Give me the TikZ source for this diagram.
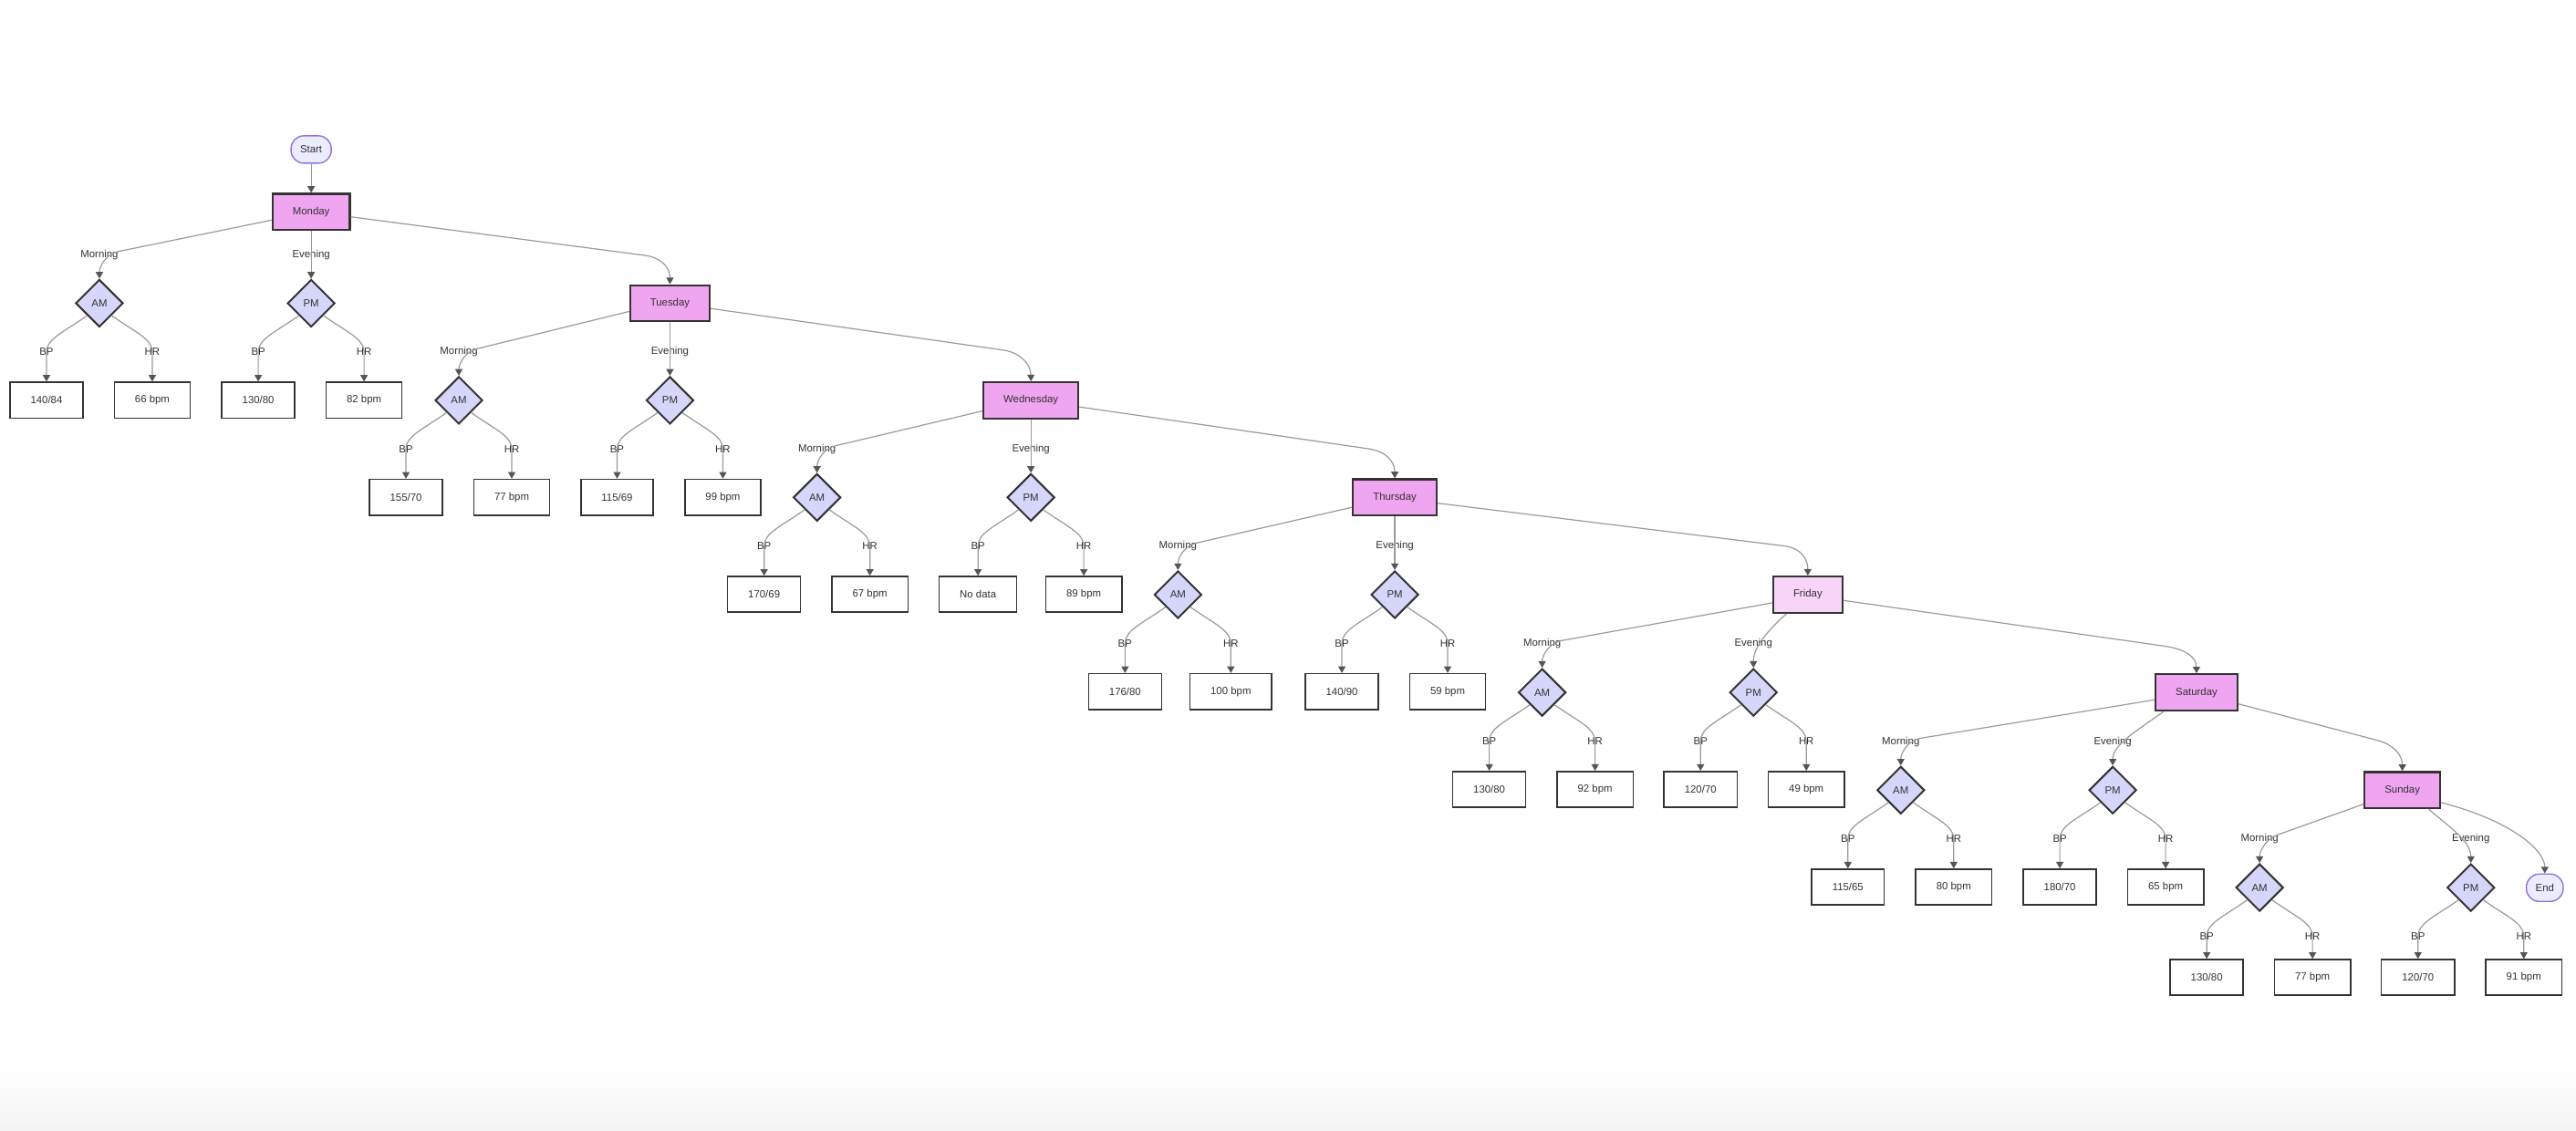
\documentclass[tikz,border=0pt]{standalone}
\usepackage{fontspec}
\setmainfont{Liberation Sans}
\usetikzlibrary{shapes.geometric,arrows.meta}
\definecolor{txt}{HTML}{333333}
\definecolor{dayfill}{RGB}{240,165,240}
\definecolor{frifill}{RGB}{248,212,248}
\definecolor{diafill}{RGB}{214,214,250}
\definecolor{termfill}{HTML}{ECECFF}
\definecolor{termline}{HTML}{9370DB}
\definecolor{edgecol}{HTML}{9A9A9A}
\definecolor{tipcol}{HTML}{555555}
\definecolor{boxline}{HTML}{333333}
\definecolor{bgbot}{RGB}{244,244,244}

\newcommand\dayrow[9]{%
  \node[dia] (am#1) at (#2,-#4) {AM};
  \node[dia] (pm#1) at (#3,-#4) {PM};
  \node[lbl] (mor#1) at ([shift={(0,29.5)}]am#1.center) {Morning};
  \node[lbl] (eve#1) at ([shift={(0,29.5)}]pm#1.center) {Evening};
  \node[leafbox] (abp#1) at ([shift={(-32.2,-#9)}]am#1.center) {#5};
  \node[leafbox] (ahr#1) at ([shift={(32.2,-#9)}]am#1.center) {#6};
  \node[leafbox] (pbp#1) at ([shift={(-32.2,-#9)}]pm#1.center) {#7};
  \node[leafbox] (phr#1) at ([shift={(32.2,-#9)}]pm#1.center) {#8};
  \node[lbl] (labp#1) at ([shift={(-32.2,-29.6)}]am#1.center) {BP};
  \node[lbl] (lahr#1) at ([shift={(32.2,-29.6)}]am#1.center) {HR};
  \node[lbl] (lpbp#1) at ([shift={(-32.2,-29.6)}]pm#1.center) {BP};
  \node[lbl] (lphr#1) at ([shift={(32.2,-29.6)}]pm#1.center) {HR};
  \draw[edge] (am#1.south west) .. controls +(-14,-10) and +(0,8) .. (labp#1.center) -- (abp#1.north);
  \draw[edge] (am#1.south east) .. controls +(14,-10) and +(0,8) .. (lahr#1.center) -- (ahr#1.north);
  \draw[edge] (pm#1.south west) .. controls +(-14,-10) and +(0,8) .. (lpbp#1.center) -- (pbp#1.north);
  \draw[edge] (pm#1.south east) .. controls +(14,-10) and +(0,8) .. (lphr#1.center) -- (phr#1.north);
}

\begin{document}
\begin{tikzpicture}[x=0.9pt,y=0.9pt,
  font=\fontsize{5.7}{6.8}\selectfont, text=txt,
  daybox/.style={draw=boxline, line width=1.1pt, fill=dayfill, minimum height=19.8pt, inner xsep=11pt, inner ysep=0pt},
  leafbox/.style={draw=boxline, line width=0.75pt, fill=white, minimum height=19.6pt, inner xsep=11.3pt, inner ysep=0pt},
  dia/.style={diamond, draw=boxline, line width=1pt, fill=diafill, minimum width=26pt, minimum height=26pt, inner sep=0pt},
  term/.style={draw=termline, line width=0.7pt, fill=termfill, rounded corners=7pt, minimum height=15pt, inner xsep=5pt, inner ysep=0pt},
  lbl/.style={inner sep=0.5pt},
  edge/.style={draw=edgecol, line width=0.6pt, -{Triangle[length=3.6pt,width=4pt,color=tipcol]}},
]
\fill[white] (0,0) rectangle (1568,-688);
\shade[top color=white, bottom color=bgbot] (0,-650) rectangle (1568,-688);
\useasboundingbox (0,0) rectangle (1568,-688);

% terminals and days
\node[term] (start) at (189.4,-91) {Start};
\node[daybox] (mon) at (189.4,-129) {Monday};
\node[daybox] (tue) at (407.8,-184.6) {Tuesday};
\node[daybox] (wed) at (627.5,-243.7) {Wednesday};
\node[daybox] (thu) at (849,-302.8) {Thursday};
\node[daybox, fill=frifill] (fri) at (1100.4,-362) {Friday};
\node[daybox] (sat) at (1337,-421.5) {Saturday};
\node[daybox] (sun) at (1462.3,-481) {Sunday};
\node[term] (endn) at (1549,-540.4) {End};

% rows of readings
\dayrow{1}{60.5}{189.4}{184.6}{140/84}{66 bpm}{130/80}{82 bpm}{59}
\dayrow{2}{279.3}{407.8}{243.7}{155/70}{77 bpm}{115/69}{99 bpm}{59}
\dayrow{3}{497.3}{627.5}{302.8}{170/69}{67 bpm}{No data}{89 bpm}{59}
\dayrow{4}{717}{849}{362}{176/80}{100 bpm}{140/90}{59 bpm}{59}
\dayrow{5}{938.7}{1067.3}{421.5}{130/80}{92 bpm}{120/70}{49 bpm}{59}
\dayrow{6}{1157}{1286}{481}{115/65}{80 bpm}{180/70}{65 bpm}{59}
\dayrow{7}{1375.4}{1504}{540.3}{130/80}{77 bpm}{120/70}{91 bpm}{54.7}

% start
\draw[edge] (start.south) -- (mon.north);

% morning edges
\draw[edge] ([shift={(0,-5)}]mon.west) -- ([shift={(11.5,16.5)}]am1.north) .. controls +(-7,-1.5) and +(0,8) .. (am1.north);
\draw[edge] ([shift={(0,-5)}]tue.west) -- ([shift={(11.5,16.5)}]am2.north) .. controls +(-7,-1.5) and +(0,8) .. (am2.north);
\draw[edge] ([shift={(0,-6.5)}]wed.west) -- ([shift={(11.5,16.5)}]am3.north) .. controls +(-7,-1.5) and +(0,8) .. (am3.north);
\draw[edge] ([shift={(0,-6)}]thu.west) -- ([shift={(11.5,16.5)}]am4.north) .. controls +(-7,-1.5) and +(0,8) .. (am4.north);
\draw[edge] ([shift={(0,-5)}]fri.west) -- ([shift={(11.5,16.5)}]am5.north) .. controls +(-7,-1.5) and +(0,8) .. (am5.north);
\draw[edge] ([shift={(0,-4.5)}]sat.west) -- ([shift={(11.5,16.5)}]am6.north) .. controls +(-7,-1.5) and +(0,8) .. (am6.north);
\draw[edge] ([shift={(0,-8.5)}]sun.west) -- ([shift={(10.6,17)}]am7.north) .. controls +(-6,-2.2) and +(0,8) .. (am7.north);

% evening edges
\draw[edge] (mon.south) -- (pm1.north);
\draw[edge] (tue.south) -- (pm2.north);
\draw[edge] (wed.south) -- (pm3.north);
\draw[edge] (thu.south) -- (pm4.north);
\draw[edge] ([shift={(-13,0)}]fri.south) .. controls +(-11,-10) and +(0,13) .. (pm5.north);
\draw[edge] ([shift={(-20,0)}]sat.south) .. controls +(-15,-11) and +(0,13) .. (pm6.north);
\draw[edge] ([shift={(16,0)}]sun.south) .. controls +(13,-11) and +(0,13) .. (pm7.north);

% next-day edges
\draw[edge] ([shift={(0,-3)}]mon.east) -- ([shift={(-15,17.5)}]tue.north) .. controls +(10,-1.5) and +(0,10) .. (tue.north);
\draw[edge] ([shift={(0,-3.2)}]tue.east) -- ([shift={(-17,19)}]wed.north) .. controls +(11,-1.6) and +(0,10) .. (wed.north);
\draw[edge] ([shift={(0,-4)}]wed.east) -- ([shift={(-16,18)}]thu.north) .. controls +(11,-1.6) and +(0,10) .. (thu.north);
\draw[edge] ([shift={(0,-3.5)}]thu.east) -- ([shift={(-14,18)}]fri.north) .. controls +(10,-1.4) and +(0,10) .. (fri.north);
\draw[edge] ([shift={(0,-3.5)}]fri.east) -- ([shift={(-19,16.5)}]sat.north) .. controls +(12,-1.8) and +(0,10) .. (sat.north);
\draw[edge] ([shift={(0,-7)}]sat.east) -- ([shift={(-14.7,18.6)}]sun.north) .. controls +(9,-2.5) and +(0,10) .. (sun.north);
\draw[edge] ([shift={(0,-7.6)}]sun.east) .. controls +(40,-10) and +(0,15) .. (endn.north);
\end{tikzpicture}
\end{document}
